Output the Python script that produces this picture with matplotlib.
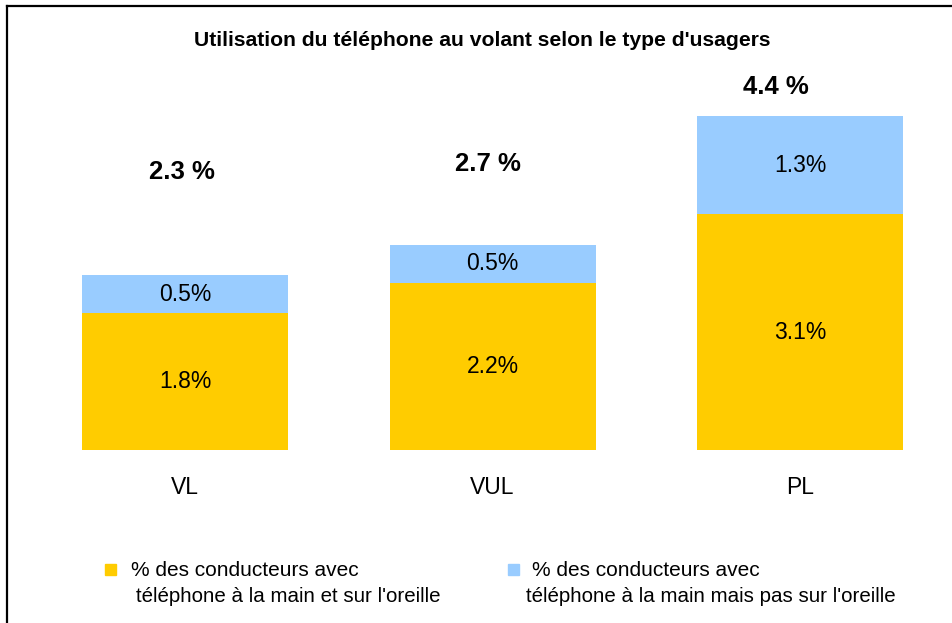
import matplotlib
matplotlib.use("Agg")
import matplotlib.pyplot as plt
from matplotlib.patches import Rectangle
from matplotlib.lines import Line2D
import numpy as np

plt.rcParams['font.family'] = ['Liberation Sans', 'DejaVu Sans']

# données
categories = ["VL", "VUL", "PL"]
main_oreille = [1.8, 2.2, 3.1]        # téléphone à la main et sur l'oreille
main_pas_oreille = [0.5, 0.5, 1.3]    # téléphone à la main mais pas sur l'oreille
totaux = ["2.3 %", "2.7 %", "4.4 %"]
legend_l1 = ["% des conducteurs avec", "% des conducteurs avec"]
legend_l2 = ["téléphone à la main et sur l'oreille",
             "téléphone à la main mais pas sur l'oreille"]

c_jaune = "#FFCC00"
c_bleu = "#99CCFF"

W, H = 952, 623
fig = plt.figure(figsize=(W / 100, H / 100), dpi=100)

# axe : y=0 à 450 px, 76 px par unité
ax = fig.add_axes([0, (H - 450) / H, 1, 380 / H])
step = 307.5
ax.set_xlim(-185 / step, (W - 185) / step)
ax.set_ylim(0, 380 / 76)
ax.axis("off")

x = np.arange(len(categories))
w = 206 / step
ax.bar(x, main_oreille, width=w, color=c_jaune)
ax.bar(x, main_pas_oreille, width=w, bottom=main_oreille, color=c_bleu)

fs = 16.5
for i in range(len(categories)):
    ax.text(x[i], main_oreille[i] / 2, f"{main_oreille[i]:.1f}%",
            ha="center", va="center", fontsize=fs)
    ax.text(x[i], main_oreille[i] + main_pas_oreille[i] / 2, f"{main_pas_oreille[i]:.1f}%",
            ha="center", va="center", fontsize=fs)
    ax.text(x[i], -0.5, categories[i], ha="center", va="center", fontsize=fs)

# étiquettes des totaux (positions comme dans l'original)
total_dx = [-0.01, -0.015, -0.08]
total_y = [3.66, 3.76, 4.78]
for i in range(len(categories)):
    ax.text(x[i] + total_dx[i], total_y[i], totaux[i], ha="center", va="center",
            fontsize=18.5, fontweight="bold")

fig.text(482 / W, 1 - 40 / H, "Utilisation du téléphone au volant selon le type d'usagers",
         ha="center", va="center", fontsize=15.2, fontweight="bold")

# légende
leg_pos = [(105, 131, 136), (508, 532, 526)]
for (mx, t1, t2), col, l1, l2 in zip(leg_pos, [c_jaune, c_bleu], legend_l1, legend_l2):
    fig.patches.append(Rectangle((mx / W, 1 - 575 / H), 11 / W, 11 / H,
                                 transform=fig.transFigure, color=col))
    fig.text(t1 / W, 1 - 570 / H, l1, ha="left", va="center", fontsize=15)
    fig.text(t2 / W, 1 - 596 / H, l2, ha="left", va="center", fontsize=14.8)

# cadre
fig.lines.append(Line2D([7 / W, 1], [1 - 6 / H, 1 - 6 / H], transform=fig.transFigure,
                        color="black", lw=1.6))
fig.lines.append(Line2D([7 / W, 7 / W], [0, 1 - 6 / H], transform=fig.transFigure,
                        color="black", lw=1.6))

fig.savefig("out.png", dpi=100)
